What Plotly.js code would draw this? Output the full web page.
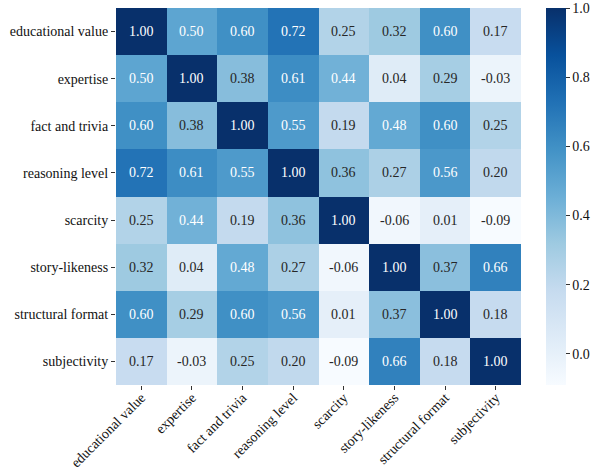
<!DOCTYPE html>
<html>
<head>
<meta charset="utf-8">
<script src="https://cdn.plot.ly/plotly-3.0.1.min.js"></script>
<style>
  html, body { margin: 0; padding: 0; background: #fff; }
  #chart { width: 597px; height: 472px; }
</style>
</head>
<body>
<div id="chart"></div>
<script>
// categories (same order on both axes)
const labels = ['educational value', 'expertise', 'fact and trivia', 'reasoning level',
                'scarcity', 'story-likeness', 'structural format', 'subjectivity'];

// correlation matrix, one row per label
const rowEducational = [1.00, 0.50, 0.60, 0.72, 0.25, 0.32, 0.60, 0.17];
const rowExpertise   = [0.50, 1.00, 0.38, 0.61, 0.44, 0.04, 0.29, -0.03];
const rowFact        = [0.60, 0.38, 1.00, 0.55, 0.19, 0.48, 0.60, 0.25];
const rowReasoning   = [0.72, 0.61, 0.55, 1.00, 0.36, 0.27, 0.56, 0.20];
const rowScarcity    = [0.25, 0.44, 0.19, 0.36, 1.00, -0.06, 0.01, -0.09];
const rowStory       = [0.32, 0.04, 0.48, 0.27, -0.06, 1.00, 0.37, 0.66];
const rowStructural  = [0.60, 0.29, 0.60, 0.56, 0.01, 0.37, 1.00, 0.18];
const rowSubjective  = [0.17, -0.03, 0.25, 0.20, -0.09, 0.66, 0.18, 1.00];

const matrix = [rowEducational, rowExpertise, rowFact, rowReasoning,
                rowScarcity, rowStory, rowStructural, rowSubjective];

const colorbarTicks = [0.0, 0.2, 0.4, 0.6, 0.8, 1.0];

// ColorBrewer Blues (plotly's built-in "Blues" is a different scale)
const blues = ['#f7fbff', '#deebf7', '#c6dbef', '#9ecae1', '#6baed6',
               '#4292c6', '#2171b5', '#08519c', '#08306b'];
const colorscale = blues.map((c, i) => [i / (blues.length - 1), c]);

const FONT = '"Liberation Serif", "Times New Roman", serif';
const SIZE = 14;

const heat = {
  type: 'heatmap',
  x: labels,
  y: labels,
  z: matrix,
  zmin: -0.09,
  zmax: 1.0,
  colorscale: colorscale,
  xgap: 0, ygap: 0,
  hoverinfo: 'skip',
  colorbar: {
    x: 1.059, xanchor: 'left',
    y: 0.5, yanchor: 'middle',
    len: 1, thickness: 20,
    outlinewidth: 0,
    xpad: 0, ypad: 0,
    tickvals: colorbarTicks,
    tickformat: '.1f',
    ticks: 'outside', ticklen: 4, tickwidth: 1, tickcolor: '#333',
    tickfont: { family: FONT, size: SIZE, color: '#111' }
  }
};

// cell labels, white on dark cells
const annotations = [];
matrix.forEach((row, i) => {
  row.forEach((v, j) => {
    annotations.push({
      x: labels[j], y: labels[i],
      text: v.toFixed(2),
      showarrow: false,
      font: { family: FONT, size: SIZE, color: v > 0.4 ? '#ffffff' : '#262626' }
    });
  });
});

const layout = {
  width: 597, height: 472,
  margin: { l: 116, r: 75, t: 8, b: 87 },
  paper_bgcolor: '#fff',
  plot_bgcolor: '#fff',
  font: { family: FONT, size: SIZE, color: '#111' },
  xaxis: {
    tickangle: -45,
    ticks: 'outside', ticklen: 4, tickwidth: 1, tickcolor: '#333',
    ticklabelstandoff: -6,
    showgrid: false, zeroline: false, showline: false,
    tickfont: { family: FONT, size: SIZE, color: '#111' }
  },
  yaxis: {
    autorange: 'reversed',
    ticks: 'outside', ticklen: 4, tickwidth: 1, tickcolor: '#333',
    showgrid: false, zeroline: false, showline: false,
    tickfont: { family: FONT, size: SIZE, color: '#111' }
  },
  annotations: annotations
};

Plotly.newPlot('chart', [heat], layout, { displayModeBar: false, staticPlot: true });
</script>
</body>
</html>
